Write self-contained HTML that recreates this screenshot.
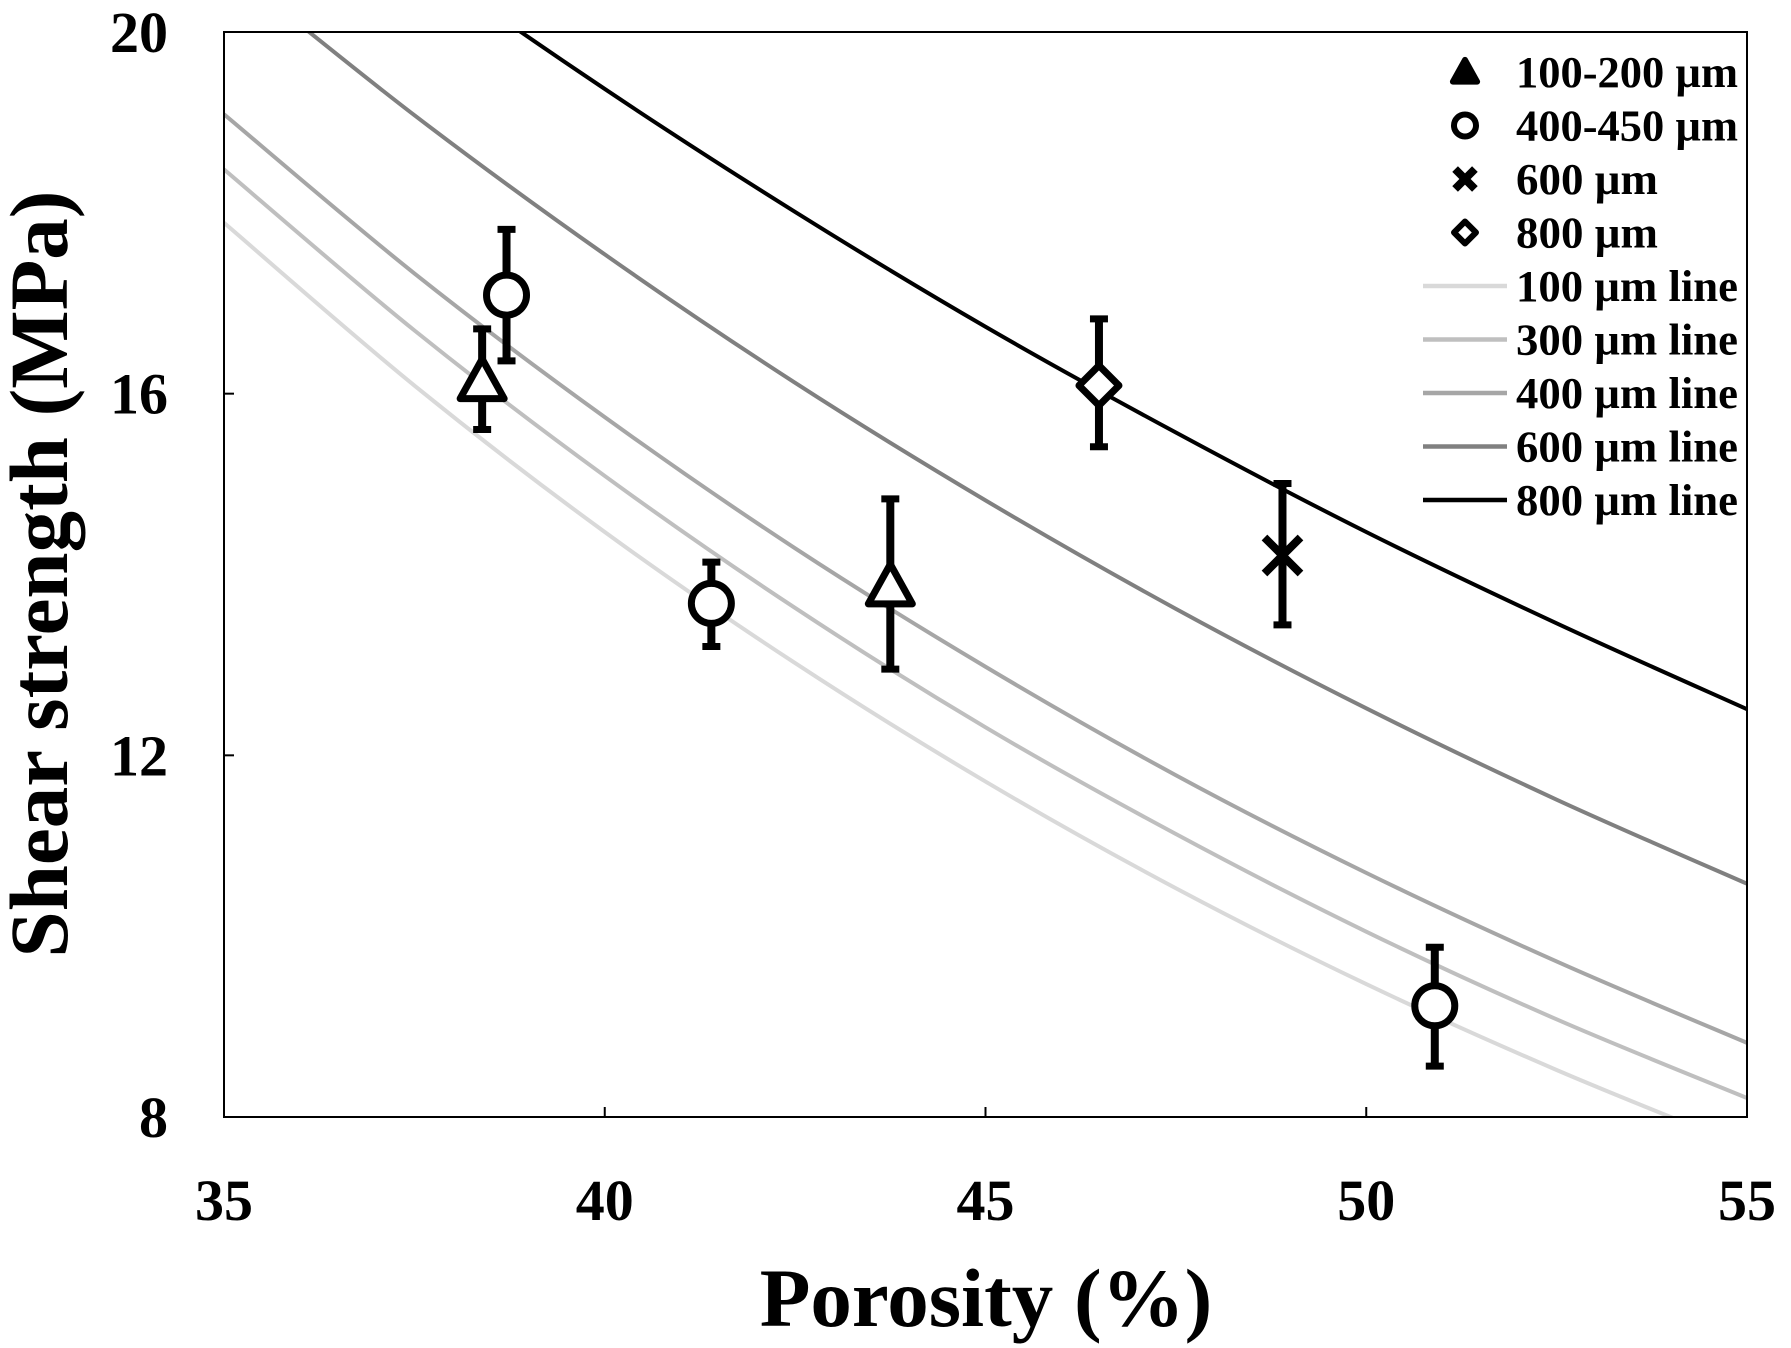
<!DOCTYPE html>
<html><head><meta charset="utf-8"><style>
html,body{margin:0;padding:0;background:#fff;}
svg{display:block;}
text{font-family:"Liberation Serif",serif;font-weight:bold;fill:#000;}
</style></head><body>
<svg id="chart" width="1791" height="1348" viewBox="0 0 1791 1348" xmlns="http://www.w3.org/2000/svg">
<defs><clipPath id="pc"><rect x="224" y="32" width="1523" height="1085"/></clipPath></defs>
<g id="curves" clip-path="url(#pc)"></g>
<rect x="224" y="32" width="1523" height="1085" fill="none" stroke="#000" stroke-width="2"/>
<g id="axes"></g>
<g id="points"></g>
<g id="legend"></g>
<text x="48" y="574" font-size="83" text-anchor="middle" transform="rotate(-90 48 574)" dominant-baseline="middle">Shear strength (MPa)</text>
<text x="986" y="1326" font-size="83" text-anchor="middle">Porosity (%)</text>
</svg>
<script>
const curveX = [35, 37.5, 40, 42.5, 45, 47.5, 50, 52.5, 55];
const line100 = [17.89, 16.09, 14.47, 13.02, 11.71, 10.53, 9.47, 8.52, 7.66];
const line300 = [18.48, 16.70, 15.09, 13.63, 12.31, 11.13, 10.05, 9.08, 8.21];
const line400 = [19.09, 17.33, 15.74, 14.29, 12.98, 11.78, 10.70, 9.72, 8.82];
const line600 = [20.76, 19.08, 17.54, 16.12, 14.82, 13.62, 12.52, 11.51, 10.58];
const line800 = [22.40, 20.83, 19.37, 18.01, 16.74, 15.57, 14.47, 13.46, 12.51];
const xTicks = [35, 40, 45, 50, 55];
const yTicks = [8, 12, 16, 20];
const pointGroup = ['tri', 'circ', 'circ', 'tri', 'diam', 'cross', 'circ'];
const pointX = [38.39, 38.71, 41.40, 43.75, 46.49, 48.90, 50.90];
const pointY = [16.14, 17.09, 13.68, 13.87, 16.09, 14.21, 9.23];
const errHigh = [16.75, 17.85, 14.17, 14.87, 16.86, 15.04, 9.91];
const errLow = [15.57, 16.33, 13.17, 12.92, 15.38, 13.41, 8.53];

const NS = 'http://www.w3.org/2000/svg';
const X0 = 224, X1 = 1747, Y0 = 1117, Y1 = 32;
const sx = v => X0 + (v - 35) / 20 * (X1 - X0);
const sy = v => Y0 - (v - 8) / 12 * (Y0 - Y1);
function mk(tag, attrs, parent) { const e = document.createElementNS(NS, tag); for (const k in attrs) e.setAttribute(k, attrs[k]); parent.appendChild(e); return e; }

function smoothPath(xs, ys) {
  const p = xs.map((x, i) => [sx(x), sy(ys[i])]);
  let d = `M${p[0][0]},${p[0][1]}`;
  for (let i = 0; i < p.length - 1; i++) {
    const a = p[i - 1] || p[i], b = p[i], c = p[i + 1], e = p[i + 2] || c;
    const c1 = [b[0] + (c[0] - a[0]) / 6, b[1] + (c[1] - a[1]) / 6];
    const c2 = [c[0] - (e[0] - b[0]) / 6, c[1] - (e[1] - b[1]) / 6];
    d += ` C${c1[0]},${c1[1]} ${c2[0]},${c2[1]} ${c[0]},${c[1]}`;
  }
  return d;
}
const curves = document.getElementById('curves');
const series = [[line100, '#d9d9d9', 'curve-100um'], [line300, '#bfbfbf', 'curve-300um'], [line400, '#a6a6a6', 'curve-400um'], [line600, '#808080', 'curve-600um'], [line800, '#000', 'curve-800um']];
series.forEach(s => {
  const el = mk('path', { d: smoothPath(curveX, s[0]), fill: 'none', stroke: s[1], 'stroke-width': 4 }, curves);
  
  
});

const axes = document.getElementById('axes');
xTicks.forEach(t => {
  const l = mk('line', { x1: sx(t), x2: sx(t), y1: Y0, y2: Y0 - 10, stroke: '#000', 'stroke-width': 2 }, axes);
  
  
  const tx = mk('text', { x: sx(t), y: 1220, 'font-size': 58, 'text-anchor': 'middle' }, axes);
  tx.textContent = t;
  
  
});
yTicks.forEach(t => {
  const l = mk('line', { x1: X0, x2: X0 + 10, y1: sy(t), y2: sy(t), stroke: '#000', 'stroke-width': 2 }, axes);
  
  
  const tx = mk('text', { x: 168, y: sy(t) + 20, 'font-size': 58, 'text-anchor': 'end' }, axes);
  tx.textContent = t;
  
  
});

function marker(type, cx, cy, parent, big) {
  const k = big ? 1 : 0.55;
  const sw = big ? 7 : 6;
  if (type === 'circ') return mk('circle', { cx, cy, r: 20 * k, fill: '#fff', stroke: '#000', 'stroke-width': sw }, parent);
  if (type === 'tri') { const w = 22 * k, h = 22 * k; return mk('path', { d: `M${cx},${cy - h} L${cx + w},${cy + h * 0.8} L${cx - w},${cy + h * 0.8} Z`, fill: big ? '#fff' : '#000', stroke: '#000', 'stroke-width': sw, 'stroke-linejoin': 'round' }, parent); }
  if (type === 'diam') { const r = 20 * k; return mk('path', { d: `M${cx},${cy - r} L${cx + r},${cy} L${cx},${cy + r} L${cx - r},${cy} Z`, fill: '#fff', stroke: '#000', 'stroke-width': sw, 'stroke-linejoin': 'round' }, parent); }
  const r = 18 * k; return mk('path', { d: `M${cx - r},${cy - r} L${cx + r},${cy + r} M${cx + r},${cy - r} L${cx - r},${cy + r}`, stroke: '#000', 'stroke-width': 8, fill: 'none' }, parent);
}
const pts = document.getElementById('points');
pointX.forEach((x, i) => {
  const g = mk('g', {}, pts);
  
  
  const cx = sx(x);
  mk('line', { x1: cx, x2: cx, y1: sy(errHigh[i]), y2: sy(errLow[i]), stroke: '#000', 'stroke-width': 8 }, g);
  mk('line', { x1: cx - 9, x2: cx + 9, y1: sy(errHigh[i]) + 3, y2: sy(errHigh[i]) + 3, stroke: '#000', 'stroke-width': 7 }, g);
  mk('line', { x1: cx - 9, x2: cx + 9, y1: sy(errLow[i]) - 3, y2: sy(errLow[i]) - 3, stroke: '#000', 'stroke-width': 7 }, g);
  marker(pointGroup[i], cx, sy(pointY[i]), g, true);
});

const lg = document.getElementById('legend');
const legendItems = [['tri', '100-200 µm'], ['circ', '400-450 µm'], ['cross', '600 µm'], ['diam', '800 µm'], ['#d9d9d9', '100 µm line'], ['#bfbfbf', '300 µm line'], ['#a6a6a6', '400 µm line'], ['#808080', '600 µm line'], ['#000', '800 µm line']];
legendItems.forEach((it, i) => {
  const y = 72 + i * 53.5;
  const g = mk('g', {}, lg);
  
  
  if (it[0][0] === '#') mk('line', { x1: 1423, x2: 1507, y1: y, y2: y, stroke: it[0], 'stroke-width': 4.5 }, g);
  else marker(it[0], 1465, y, g, false);
  const t = mk('text', { x: 1516, y: y + 15, 'font-size': 44, textLength: it[1].length > 8 ? 222 : 142, lengthAdjust: 'spacingAndGlyphs' }, g);
  t.textContent = it[1];
});
</script>
</body></html>
